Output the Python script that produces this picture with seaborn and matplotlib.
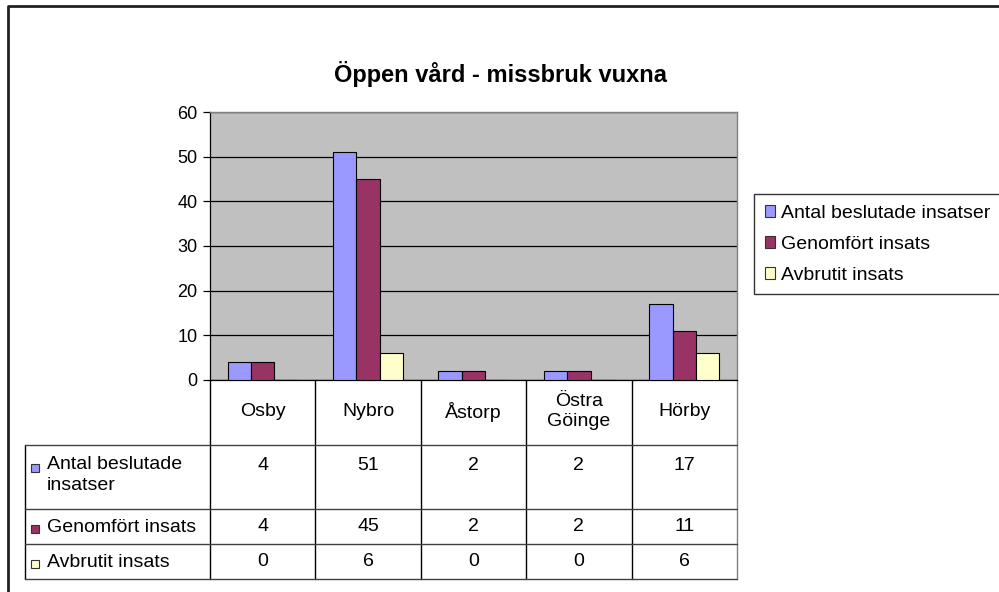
import matplotlib
matplotlib.use("Agg")
import matplotlib.pyplot as plt
from matplotlib.patches import Patch, Rectangle
import pandas as pd
import seaborn as sns

# data
kommuner = ["Osby", "Nybro", "Åstorp", "Östra\nGöinge", "Hörby"]
serier = ["Antal beslutade insatser", "Genomfört insats", "Avbrutit insats"]
tabell_rubriker = ["Antal beslutade\ninsatser", "Genomfört insats", "Avbrutit insats"]
antal_beslutade = [4, 51, 2, 2, 17]
genomfort = [4, 45, 2, 2, 11]
avbrutit = [0, 6, 0, 0, 6]
y_ticks = [0, 10, 20, 30, 40, 50, 60]

farger = ["#9999FF", "#993366", "#FFFFCC"]
varden = [antal_beslutade, genomfort, avbrutit]

rows = []
for s, vals in zip(serier, varden):
    for k, v in zip(kommuner, vals):
        rows.append({"Kommun": k, "Serie": s, "Antal": v})
df = pd.DataFrame(rows)

sns.set_style("white")
plt.rcParams["font.family"] = ["Liberation Sans", "DejaVu Sans"]
plt.rcParams["text.color"] = "black"
plt.rcParams["ytick.color"] = "black"
plt.rcParams["ytick.labelcolor"] = "black"

W, H = 999, 592
fs = 14
fig = plt.figure(figsize=(W / 100, H / 100), dpi=100)

# pixel overlay for frame and data table
ov = fig.add_axes([0, 0, 1, 1])
ov.set_xlim(0, W)
ov.set_ylim(H, 0)
ov.axis("off")

# chart border (left and top only visible)
ov.plot([8, 8, W + 5], [H + 5, 6, 6], color="#222222", lw=2.0)

# plot area
L, R, T, B = 210, 737, 112, 380
ax = fig.add_axes([L / W, 1 - B / H, (R - L) / W, (B - T) / H])
ax.set_facecolor("#C0C0C0")
sns.barplot(data=df, x="Kommun", y="Antal", hue="Serie", palette=farger,
            saturation=1, width=0.667, gap=0, edgecolor="black", linewidth=0.8,
            legend=False, ax=ax, zorder=3)
ax.set_ylim(0, 60)
ax.set_yticks(y_ticks)
ax.yaxis.grid(True, color="black", lw=0.9, zorder=1)
ax.set_axisbelow(True)
ax.set_xticks([])
ax.set_xlabel("")
ax.set_ylabel("")
ax.tick_params(axis="y", length=5, width=0.9, color="black", labelsize=13, pad=4, left=True)
for side in ["left", "bottom"]:
    ax.spines[side].set_color("black")
    ax.spines[side].set_linewidth(0.9)
for side in ["top", "right"]:
    ax.spines[side].set_color("#808080")
    ax.spines[side].set_linewidth(1.0)

fig.text(501 / W, 1 - 74 / H, "Öppen vård - missbruk vuxna", ha="center", va="center",
         fontsize=17, fontweight="bold")

# data table
col_w = (R - L) / len(kommuner)
tab_left = 25
row_lines = [445, 509, 544, 579]
for i in range(len(kommuner) + 1):
    x = L + i * col_w
    ov.plot([x, x], [B, row_lines[-1]], color="black" if i < len(kommuner) else "#808080", lw=1.0)
ov.plot([tab_left, tab_left], [row_lines[0], row_lines[-1]], color="black", lw=1.0)
for y in row_lines:
    ov.plot([tab_left, R], [y, y], color="#404040", lw=1.0)

for i, k in enumerate(kommuner):
    ov.text(L + (i + 0.5) * col_w, (B + row_lines[0]) / 2 - 1, k, ha="center", va="center",
            fontsize=fs, linespacing=1.3)

for r, (lab, vals, c) in enumerate(zip(tabell_rubriker, varden, farger)):
    top, bot = row_lines[r], row_lines[r + 1]
    yc = top + 21 if r == 0 else (top + bot) / 2
    ov.add_patch(Rectangle((31, yc - 2), 8, 8, facecolor=c, edgecolor="#333333", lw=0.8))
    if r == 0:
        ov.text(47, yc - 10, lab, ha="left", va="top", fontsize=fs, linespacing=1.3)
    else:
        ov.text(47, yc + 1, lab, ha="left", va="center", fontsize=fs)
    for i, v in enumerate(vals):
        ov.text(L + (i + 0.5) * col_w, yc, str(v), ha="center", va="center", fontsize=fs)

# legend
handles = [Patch(facecolor=c, edgecolor="#333333", lw=0.8) for c in farger]
leg = fig.legend(handles, serier, loc="upper left", bbox_to_anchor=(754 / W, 1 - 194 / H),
                 frameon=True, fancybox=False, fontsize=fs, handlelength=0.55, handleheight=0.55,
                 handletextpad=0.3, labelspacing=0.72, borderpad=0.55, borderaxespad=0)
leg.get_frame().set_edgecolor("black")
leg.get_frame().set_linewidth(1.0)

fig.savefig("out.png", dpi=100)
